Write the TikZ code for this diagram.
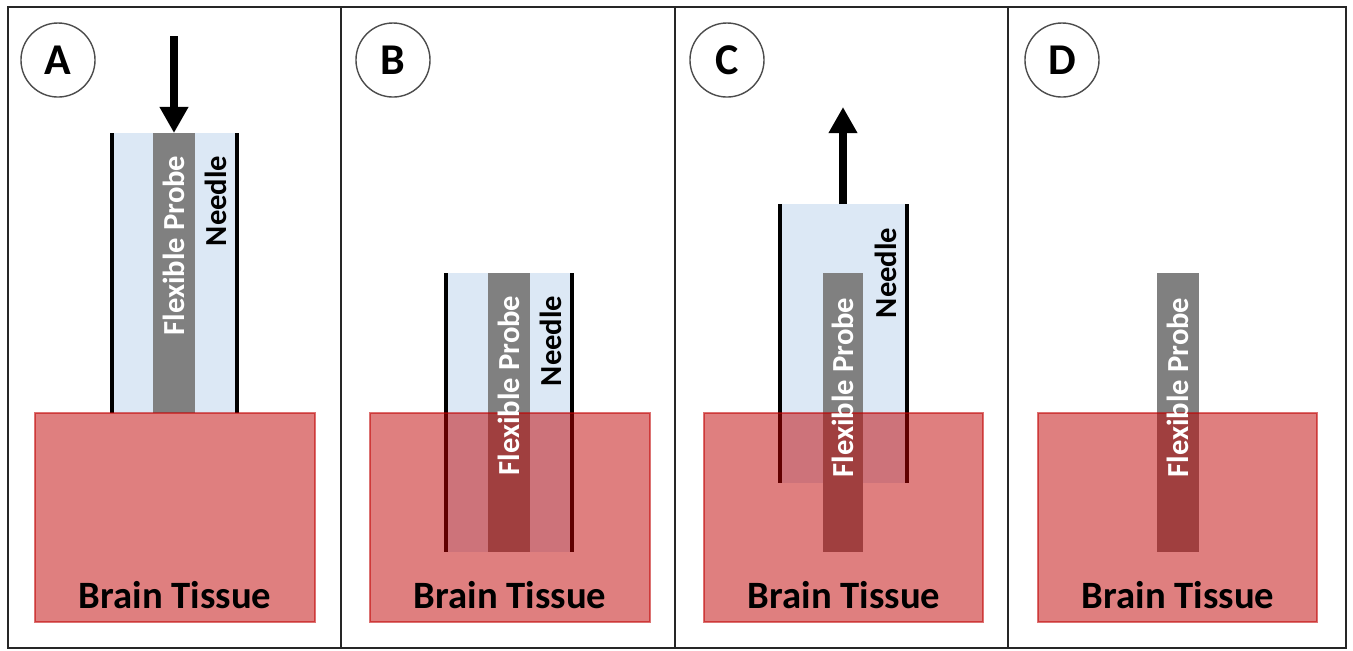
\documentclass[tikz,border=0pt]{standalone}
\usepackage{fontspec}
\setsansfont{Carlito}
\usepackage{xcolor}
\usetikzlibrary{arrows.meta}
\definecolor{needleblue}{RGB}{220,232,245}
\definecolor{probegray}{RGB}{128,128,128}
\definecolor{tissuered}{RGB}{192,0,0}
\tikzset{
  panelframe/.style={draw=black!85,line width=0.6pt},
  needlewall/.style={line width=0.9pt},
  tissuebox/.style={fill=tissuered,fill opacity=0.5,draw=tissuered,draw opacity=0.55,line width=0.4pt},
  probelabel/.style={rotate=90,anchor=east,inner sep=0pt,text=white,
    font=\sffamily\bfseries\fontsize{8.7}{10}\selectfont},
  needlelabel/.style={rotate=90,anchor=east,inner sep=0pt,
    font=\sffamily\bfseries\fontsize{8.7}{10}\selectfont},
  tissuelabel/.style={font=\sffamily\bfseries\fontsize{11}{13}\selectfont},
  steplabel/.style={draw=black!70,circle,line width=0.4pt,minimum size=0.74cm,inner sep=0pt,
    font=\sffamily\bfseries\fontsize{12.5}{14}\selectfont},
  movearrow/.style={-{Triangle[width=7.7pt,length=7.4pt]},line width=2.3pt}
}
\begin{document}
\begin{tikzpicture}[x=0.01cm,y=-0.01cm]
  \useasboundingbox (0,0) rectangle (1353,650);
  % frame
  \draw[panelframe] (8,7) rectangle (1346,648);
  \draw[panelframe] (341,7) -- (341,648);
  \draw[panelframe] (675,7) -- (675,648);
  \draw[panelframe] (1008,7) -- (1008,648);

  % A: needle with probe pushed down
  \node[steplabel] (stepA) at (58,60) {A};
  \fill[needleblue] (112,133) rectangle (237,413);
  \fill[probegray] (153,133) rectangle (195,413);
  \draw[needlewall] (112,133) -- (112,413) (237,133) -- (237,413);
  \coordinate (pushA) at (174,36);
  \coordinate (probetopA) at (174,133);
  \draw[movearrow] (pushA) -- (probetopA);
  \draw[tissuebox] (35,413) rectangle (315,622);
  \node[probelabel] (probeA) at (174,155) {Flexible Probe};
  \node[needlelabel] (needleA) at (216,155) {Needle};
  \node[tissuelabel] (tissueA) at (175,595) {Brain Tissue};

  % B: needle and probe inside tissue
  \node[steplabel] (stepB) at (393,60) {B};
  \fill[needleblue] (446,273) rectangle (572,552);
  \fill[probegray] (488,273) rectangle (530,552);
  \draw[needlewall] (446,273) -- (446,552) (572,273) -- (572,552);
  \draw[tissuebox] (370,413) rectangle (650,622);
  \node[probelabel] (probeB) at (509,295) {Flexible Probe};
  \node[needlelabel] (needleB) at (551,295) {Needle};
  \node[tissuelabel] (tissueB) at (510,595) {Brain Tissue};

  % C: needle pulled back
  \node[steplabel] (stepC) at (727,60) {C};
  \fill[needleblue] (780,204) rectangle (907,483);
  \fill[probegray] (823,273) rectangle (863,552);
  \draw[needlewall] (780,204) -- (780,483) (907,204) -- (907,483);
  \coordinate (needletopC) at (843,204);
  \coordinate (pullC) at (843,107);
  \draw[movearrow] (needletopC) -- (pullC);
  \draw[tissuebox] (704,413) rectangle (983,622);
  \node[probelabel] (probeC) at (843,297) {Flexible Probe};
  \node[needlelabel] (needleC) at (886,227) {Needle};
  \node[tissuelabel] (tissueC) at (844,595) {Brain Tissue};

  % D: probe left alone
  \node[steplabel] (stepD) at (1062,60) {D};
  \fill[probegray] (1157,273) rectangle (1199,552);
  \draw[tissuebox] (1038,413) rectangle (1317,622);
  \node[probelabel] (probeD) at (1178,297) {Flexible Probe};
  \node[tissuelabel] (tissueD) at (1178,595) {Brain Tissue};
\end{tikzpicture}
\end{document}
